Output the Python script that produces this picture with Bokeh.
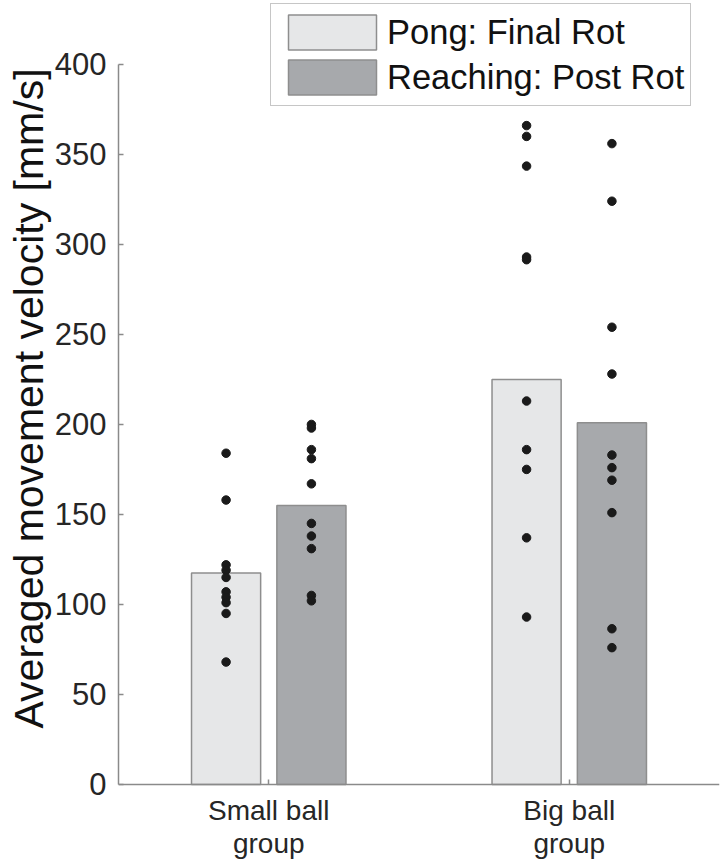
from bokeh.plotting import figure
from bokeh.models import Range1d, FixedTicker, Legend, LegendItem, ColumnDataSource, Title
from bokeh.transform import dodge
from bokeh.embed import file_html
from bokeh.resources import INLINE

# ---- data ----
groups = [1, 2]
group_labels = ["Small ball\ngroup", "Big ball\ngroup"]
series_names = ["Pong: Final Rot", "Reaching: Post Rot"]
y_title = "Averaged movement velocity [mm/s]"
pong_mean = [117.5, 225]
reach_mean = [155, 201]

small_pong = [184, 158, 122, 119, 115, 107, 104, 101, 95, 68]
small_reach = [200, 198, 186, 181, 167, 145, 138, 131, 105, 102]
big_pong = [366, 360, 343.5, 293, 291.5, 213, 186, 175, 137, 93]
big_reach = [356, 324, 254, 228, 183, 176, 169, 151, 86.5, 76]

y_ticks = [0, 50, 100, 150, 200, 250, 300, 350, 400]

FONT = "Liberation Sans"
LIGHT = "#e6e7e8"
DARK = "#a7a9ac"
EDGE = "#8e8e8e"

# frame spans the whole height; y=0 sits 77px above the bottom edge
p = figure(width=724, height=861, output_backend="svg", toolbar_location=None,
           x_range=Range1d(0.5, 2.5), y_range=Range1d(-42.8, 435.5),
           min_border_left=118, min_border_right=5, min_border_top=0, min_border_bottom=0)
p.outline_line_color = None
p.grid.visible = False
p.background_fill_color = "white"
p.border_fill_color = "white"

bars = ColumnDataSource(dict(x=groups, pong=pong_mean, reach=reach_mean))
r1 = p.vbar(x=dodge("x", -0.142, range=p.x_range), top="pong", bottom=0, width=0.23, source=bars,
            fill_color=LIGHT, line_color=EDGE, line_width=1.5)
r2 = p.vbar(x=dodge("x", 0.142, range=p.x_range), top="reach", bottom=0, width=0.23, source=bars,
            fill_color=DARK, line_color=EDGE, line_width=1.5)

def dots(gx, vals, off):
    src = ColumnDataSource(dict(x=[gx] * len(vals), y=vals))
    p.scatter(x=dodge("x", off, range=p.x_range), y="y", source=src, size=8.5,
              fill_color="#1a1a1a", line_color="#1a1a1a")

dots(groups[0], small_pong, -0.142)
dots(groups[0], small_reach, 0.142)
dots(groups[1], big_pong, -0.142)
dots(groups[1], big_reach, 0.142)

# axes
p.yaxis.ticker = FixedTicker(ticks=y_ticks)
p.yaxis.bounds = (0, 400)
p.xaxis.ticker = FixedTicker(ticks=groups)
p.xaxis.fixed_location = 0
p.xaxis.major_label_overrides = {g: l for g, l in zip(groups, group_labels)}
for ax in (p.xaxis[0], p.yaxis[0]):
    ax.axis_line_color = "#8a8a8a"
    ax.axis_line_width = 1.5
    ax.major_tick_line_color = "#8a8a8a"
    ax.major_tick_line_width = 1.5
    ax.major_tick_in = 5
    ax.major_tick_out = 0
    ax.minor_tick_line_color = None
    ax.major_label_text_font = FONT
    ax.major_label_text_color = "#262626"
p.yaxis.major_label_text_font_size = "31px"
p.yaxis.major_label_standoff = 12
p.xaxis.major_label_text_font_size = "28px"
p.xaxis.major_label_text_line_height = 1.05
p.xaxis.major_label_standoff = 11

# y axis title as a left-side title, so it can sit where the reference has it
yt = Title(text=y_title, align="left", offset=133, standoff=0,
           text_font=FONT, text_font_size="41px", text_font_style="normal",
           text_color="#111111")
p.add_layout(yt, "left")

legend = Legend(items=[LegendItem(label=series_names[0], renderers=[r1]),
                       LegendItem(label=series_names[1], renderers=[r2])],
                location=(152, 755), orientation="vertical")
legend.label_text_font = FONT
legend.label_text_font_size = "34.5px"
legend.label_text_color = "#111111"
legend.glyph_width = 110
legend.glyph_height = 44
legend.label_height = 44
legend.label_standoff = 0
legend.spacing = 1
legend.padding = 6
legend.margin = 0
legend.border_line_color = "#8e8e8e"
legend.border_line_width = 1.5
legend.background_fill_color = "white"
legend.background_fill_alpha = 1.0
p.add_layout(legend, "center")

open("out.html", "w").write(file_html(p, INLINE))
